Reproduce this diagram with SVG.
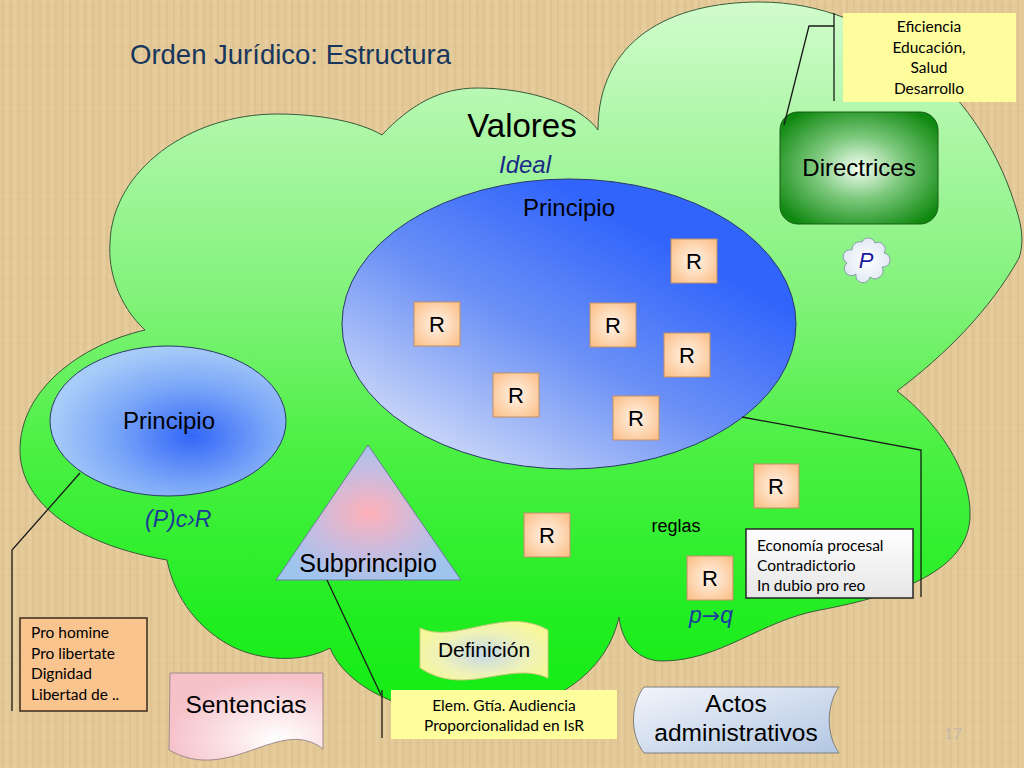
<svg xmlns="http://www.w3.org/2000/svg" width="1024" height="768" viewBox="0 0 1024 768">
<defs>
<pattern id="pap" width="37" height="29" patternUnits="userSpaceOnUse">
<rect width="37" height="29" fill="#e4ca98"/>
<path d="M3 0V29M11 0V29M19 0V29M26 0V29M33 0V29" stroke="#d2b47e" stroke-width="1.2" opacity=".45"/>
<path d="M7 0V29M15 0V29M30 0V29" stroke="#f0dcb2" stroke-width="1" opacity=".5"/>
<path d="M0 7H37M0 18H37M0 25H37" stroke="#d8bc88" stroke-width="0.8" opacity=".4"/>
</pattern>
<linearGradient id="cloudG" x1="0" y1="0" x2="0" y2="720" gradientUnits="userSpaceOnUse">
<stop offset="0" stop-color="#d2fccd"/>
<stop offset="0.2" stop-color="#a9f6a3"/>
<stop offset="0.42" stop-color="#80f278"/>
<stop offset="0.62" stop-color="#4cf044"/>
<stop offset="0.85" stop-color="#22ee22"/>
<stop offset="1" stop-color="#12ec12"/>
</linearGradient>
<linearGradient id="bigE" x1="0.15" y1="0.95" x2="0.75" y2="0.25">
<stop offset="0" stop-color="#d4def8"/>
<stop offset="0.55" stop-color="#6a90f6"/>
<stop offset="1" stop-color="#3164fb"/>
</linearGradient>
<radialGradient id="smallE" cx="0.6" cy="0.6" r="0.6">
<stop offset="0" stop-color="#3366f8"/>
<stop offset="0.55" stop-color="#7aa6f8"/>
<stop offset="1" stop-color="#a8ccf8"/>
</radialGradient>
<radialGradient id="triG" cx="0.5" cy="0.5" r="0.55">
<stop offset="0" stop-color="#ffb0b8"/>
<stop offset="0.55" stop-color="#c8bce0"/>
<stop offset="1" stop-color="#9fc4ee"/>
</radialGradient>
<radialGradient id="rG" cx="0.5" cy="0.5" r="0.65">
<stop offset="0" stop-color="#fff4ea"/>
<stop offset="1" stop-color="#fbc088"/>
</radialGradient>
<radialGradient id="dirG" cx="0.5" cy="0.5" r="0.62">
<stop offset="0" stop-color="#f4fff4"/>
<stop offset="0.45" stop-color="#7cc87c"/>
<stop offset="1" stop-color="#0e880e"/>
</radialGradient>
<radialGradient id="defG" cx="0.5" cy="0.55" r="0.6">
<stop offset="0" stop-color="#c6d8ea"/>
<stop offset="0.6" stop-color="#eef2b8"/>
<stop offset="1" stop-color="#f8f896"/>
</radialGradient>
<radialGradient id="senG" cx="0.7" cy="0.75" r="0.7">
<stop offset="0" stop-color="#ffffff"/>
<stop offset="1" stop-color="#f6c2ca"/>
</radialGradient>
<linearGradient id="actG" x1="0" y1="0" x2="1" y2="1">
<stop offset="0" stop-color="#f2f5fb"/>
<stop offset="1" stop-color="#b2c6e2"/>
</linearGradient>
<linearGradient id="ecoG" x1="0" y1="0" x2="0" y2="1">
<stop offset="0" stop-color="#ffffff"/>
<stop offset="1" stop-color="#e6e6e6"/>
</linearGradient>
<radialGradient id="pG" cx="0.5" cy="0.5" r="0.6">
<stop offset="0" stop-color="#ffffff"/>
<stop offset="1" stop-color="#dce6f2"/>
</radialGradient>
</defs>
<style>
.t{font-family:"Liberation Sans",Arial,sans-serif;fill:#000}
.c{font-family:Lato,"Open Sans",sans-serif;fill:#000;font-size:15.5px}
.mid{text-anchor:middle}
.it{font-style:italic}
.rb{fill:url(#rG);stroke:#c0906a;stroke-width:1}
.rt{font-family:"Liberation Sans",Arial,sans-serif;font-size:22px;text-anchor:middle;fill:#000}
.ln{fill:none;stroke:#1a1a1a;stroke-width:1.3}
</style>
<rect width="1024" height="768" fill="url(#pap)"/>

<g id="cloud">
<path d="M145 330 C118 305 108 270 110 243 C112 170 190 114 277 114 C320 114 360 122 382 135 C410 105 440 88 477 88 C530 88 580 105 598 130 C598 40 670 2 760 2 C880 2 985 95 1018 215 C1024 235 1022 250 1019 258 C990 310 945 355 897 391 C935 420 972 470 970 517 C968 570 900 595 820 610 C760 621 720 661 662 661 C640 661 622 645 619 617 C605 680 540 715 470 715 C400 715 345 685 330 648 C300 664 260 660 233 647 C200 630 175 600 167 560 C80 545 20 505 20 450 C20 390 80 345 145 330 Z" fill="url(#cloudG)" stroke="#3a5a3a" stroke-width="1"/>
</g>

<text id="title" class="t" x="130" y="64" font-size="27.5" style="fill:#17365d">Orden Jurídico: Estructura</text>
<text id="valores" class="t mid" x="522" y="137" font-size="33">Valores</text>
<text id="ideal" class="t mid it" x="525" y="173" font-size="24" style="fill:#1b2a88">Ideal</text>

<g id="principio-grande">
<ellipse cx="569" cy="324" rx="227" ry="145" fill="url(#bigE)" stroke="#2a3a6a" stroke-width="1"/>
<text class="t mid" x="569" y="216" font-size="24">Principio</text>
</g>

<g id="principio-pequeno">
<ellipse cx="168" cy="421" rx="118" ry="75" fill="url(#smallE)" stroke="#2a3a6a" stroke-width="1"/>
<text class="t mid" x="169" y="429" font-size="24">Principio</text>
</g>

<g id="subprincipio">
<polygon points="368,445 276,580 461,580" fill="url(#triG)" stroke="#6a7a9a" stroke-width="1"/>
<text class="t mid" x="368" y="572" font-size="25">Subprincipio</text>
</g>

<g id="directrices">
<rect x="780" y="112" width="158" height="112" rx="18" fill="url(#dirG)" stroke="#1a5a1a" stroke-width="1"/>
<text class="t mid" x="859" y="176" font-size="24">Directrices</text>
</g>

<g id="p-nube">
<path d="M852 250 A8 8 0 0 1 862 242 A7 7 0 0 1 875 243 A7 7 0 0 1 884 253 A7 7 0 0 1 882 267 A8 8 0 0 1 870 277 A7 7 0 0 1 856 274 A7 7 0 0 1 847 263 A7 7 0 0 1 852 250 Z" fill="url(#pG)" stroke="#8a9ab0" stroke-width="1"/>
<text class="t mid it" x="866" y="268" font-size="22" style="fill:#1a1aa0">P</text>
</g>

<text id="pcr" class="t it" x="145" y="527" font-size="23" style="fill:#1c3c96">(P)c›R</text>
<text id="reglas" class="t mid" x="676" y="532" font-size="18">reglas</text>
<text id="pq" class="t mid it" x="711" y="623" font-size="23" style="fill:#1c3ca0">p<tspan font-family="DejaVu Sans" font-style="normal" font-size="22">→</tspan>q</text>

<g id="r1"><rect class="rb" x="671" y="239" width="46" height="44"/><text class="rt" x="694" y="269">R</text></g>
<g id="r2"><rect class="rb" x="414" y="302" width="46" height="44"/><text class="rt" x="437" y="332">R</text></g>
<g id="r3"><rect class="rb" x="590" y="303" width="46" height="44"/><text class="rt" x="613" y="333">R</text></g>
<g id="r4"><rect class="rb" x="664" y="333" width="46" height="44"/><text class="rt" x="687" y="363">R</text></g>
<g id="r5"><rect class="rb" x="493" y="373" width="46" height="44"/><text class="rt" x="516" y="403">R</text></g>
<g id="r6"><rect class="rb" x="613" y="396" width="46" height="44"/><text class="rt" x="636" y="426">R</text></g>
<g id="r7"><rect class="rb" x="754" y="464" width="45" height="44"/><text class="rt" x="776" y="494">R</text></g>
<g id="r8"><rect class="rb" x="524" y="513" width="46" height="44"/><text class="rt" x="547" y="543">R</text></g>
<g id="r9"><rect class="rb" x="687" y="556" width="46" height="44"/><text class="rt" x="710" y="586">R</text></g>

<g id="connectors">
<path class="ln" d="M834 13 V101"/>
<path class="ln" d="M784 125 L809 26 H834"/>
<path class="ln" d="M742 417 L921 450 V597"/>
<path class="ln" d="M80 473 L12 550 V711"/>
<path class="ln" d="M327 580 L381 695"/>
<path class="ln" d="M382 690 V738"/>
</g>

<g id="valores-box">
<rect x="843" y="13" width="173" height="89" fill="#fefd9e"/>
<text class="c mid" x="929" y="32">Eficiencia</text>
<text class="c mid" x="929" y="53">Educación,</text>
<text class="c mid" x="929" y="73">Salud</text>
<text class="c mid" x="929" y="94">Desarrollo</text>
</g>

<g id="economia-box">
<rect x="746" y="529" width="167" height="69" fill="url(#ecoG)" stroke="#262626" stroke-width="1.5"/>
<text class="c" x="757" y="551">Economía procesal</text>
<text class="c" x="757" y="571">Contradictorio</text>
<text class="c" x="757" y="591">In dubio pro reo</text>
</g>

<g id="pro-homine-box">
<rect x="20" y="618" width="127" height="93" fill="#fac48e" stroke="#3a2a1a" stroke-width="1.5"/>
<text class="c" x="31" y="638">Pro homine</text>
<text class="c" x="31" y="659">Pro libertate</text>
<text class="c" x="31" y="679">Dignidad</text>
<text class="c" x="31" y="700">Libertad de ..</text>
</g>

<g id="definicion">
<path d="M420 628 C455 645 505 605 548 630 L548 678 C510 660 465 698 420 668 Z" fill="url(#defG)" stroke="#c8c880" stroke-width="1"/>
<text class="t mid" x="484" y="657" font-size="21">Definición</text>
</g>

<g id="elem-box">
<rect x="391" y="690" width="226" height="49" fill="#fefe9c"/>
<text class="c mid" x="504" y="711">Elem. Gtía. Audiencia</text>
<text class="c mid" x="504" y="731">Proporcionalidad en IsR</text>
</g>

<g id="sentencias">
<path d="M170 673 L323 673 L323 749 C280 715 230 785 169 750 Z" fill="url(#senG)" stroke="#a08a8a" stroke-width="1"/>
<text class="t mid" x="246" y="713" font-size="24.5">Sentencias</text>
</g>

<g id="actos">
<path d="M644 687 L839 687 C826 705 826 735 839 753 L644 753 C630 735 630 705 644 687 Z" fill="url(#actG)" stroke="#7f7f7f" stroke-width="1"/>
<text class="t mid" x="736" y="712" font-size="24.5">Actos</text>
<text class="t mid" x="736" y="741" font-size="24.5">administrativos</text>
</g>

<text id="slide-num" class="c mid" x="953" y="739" style="fill:#c4b8a4">17</text>
</svg>
